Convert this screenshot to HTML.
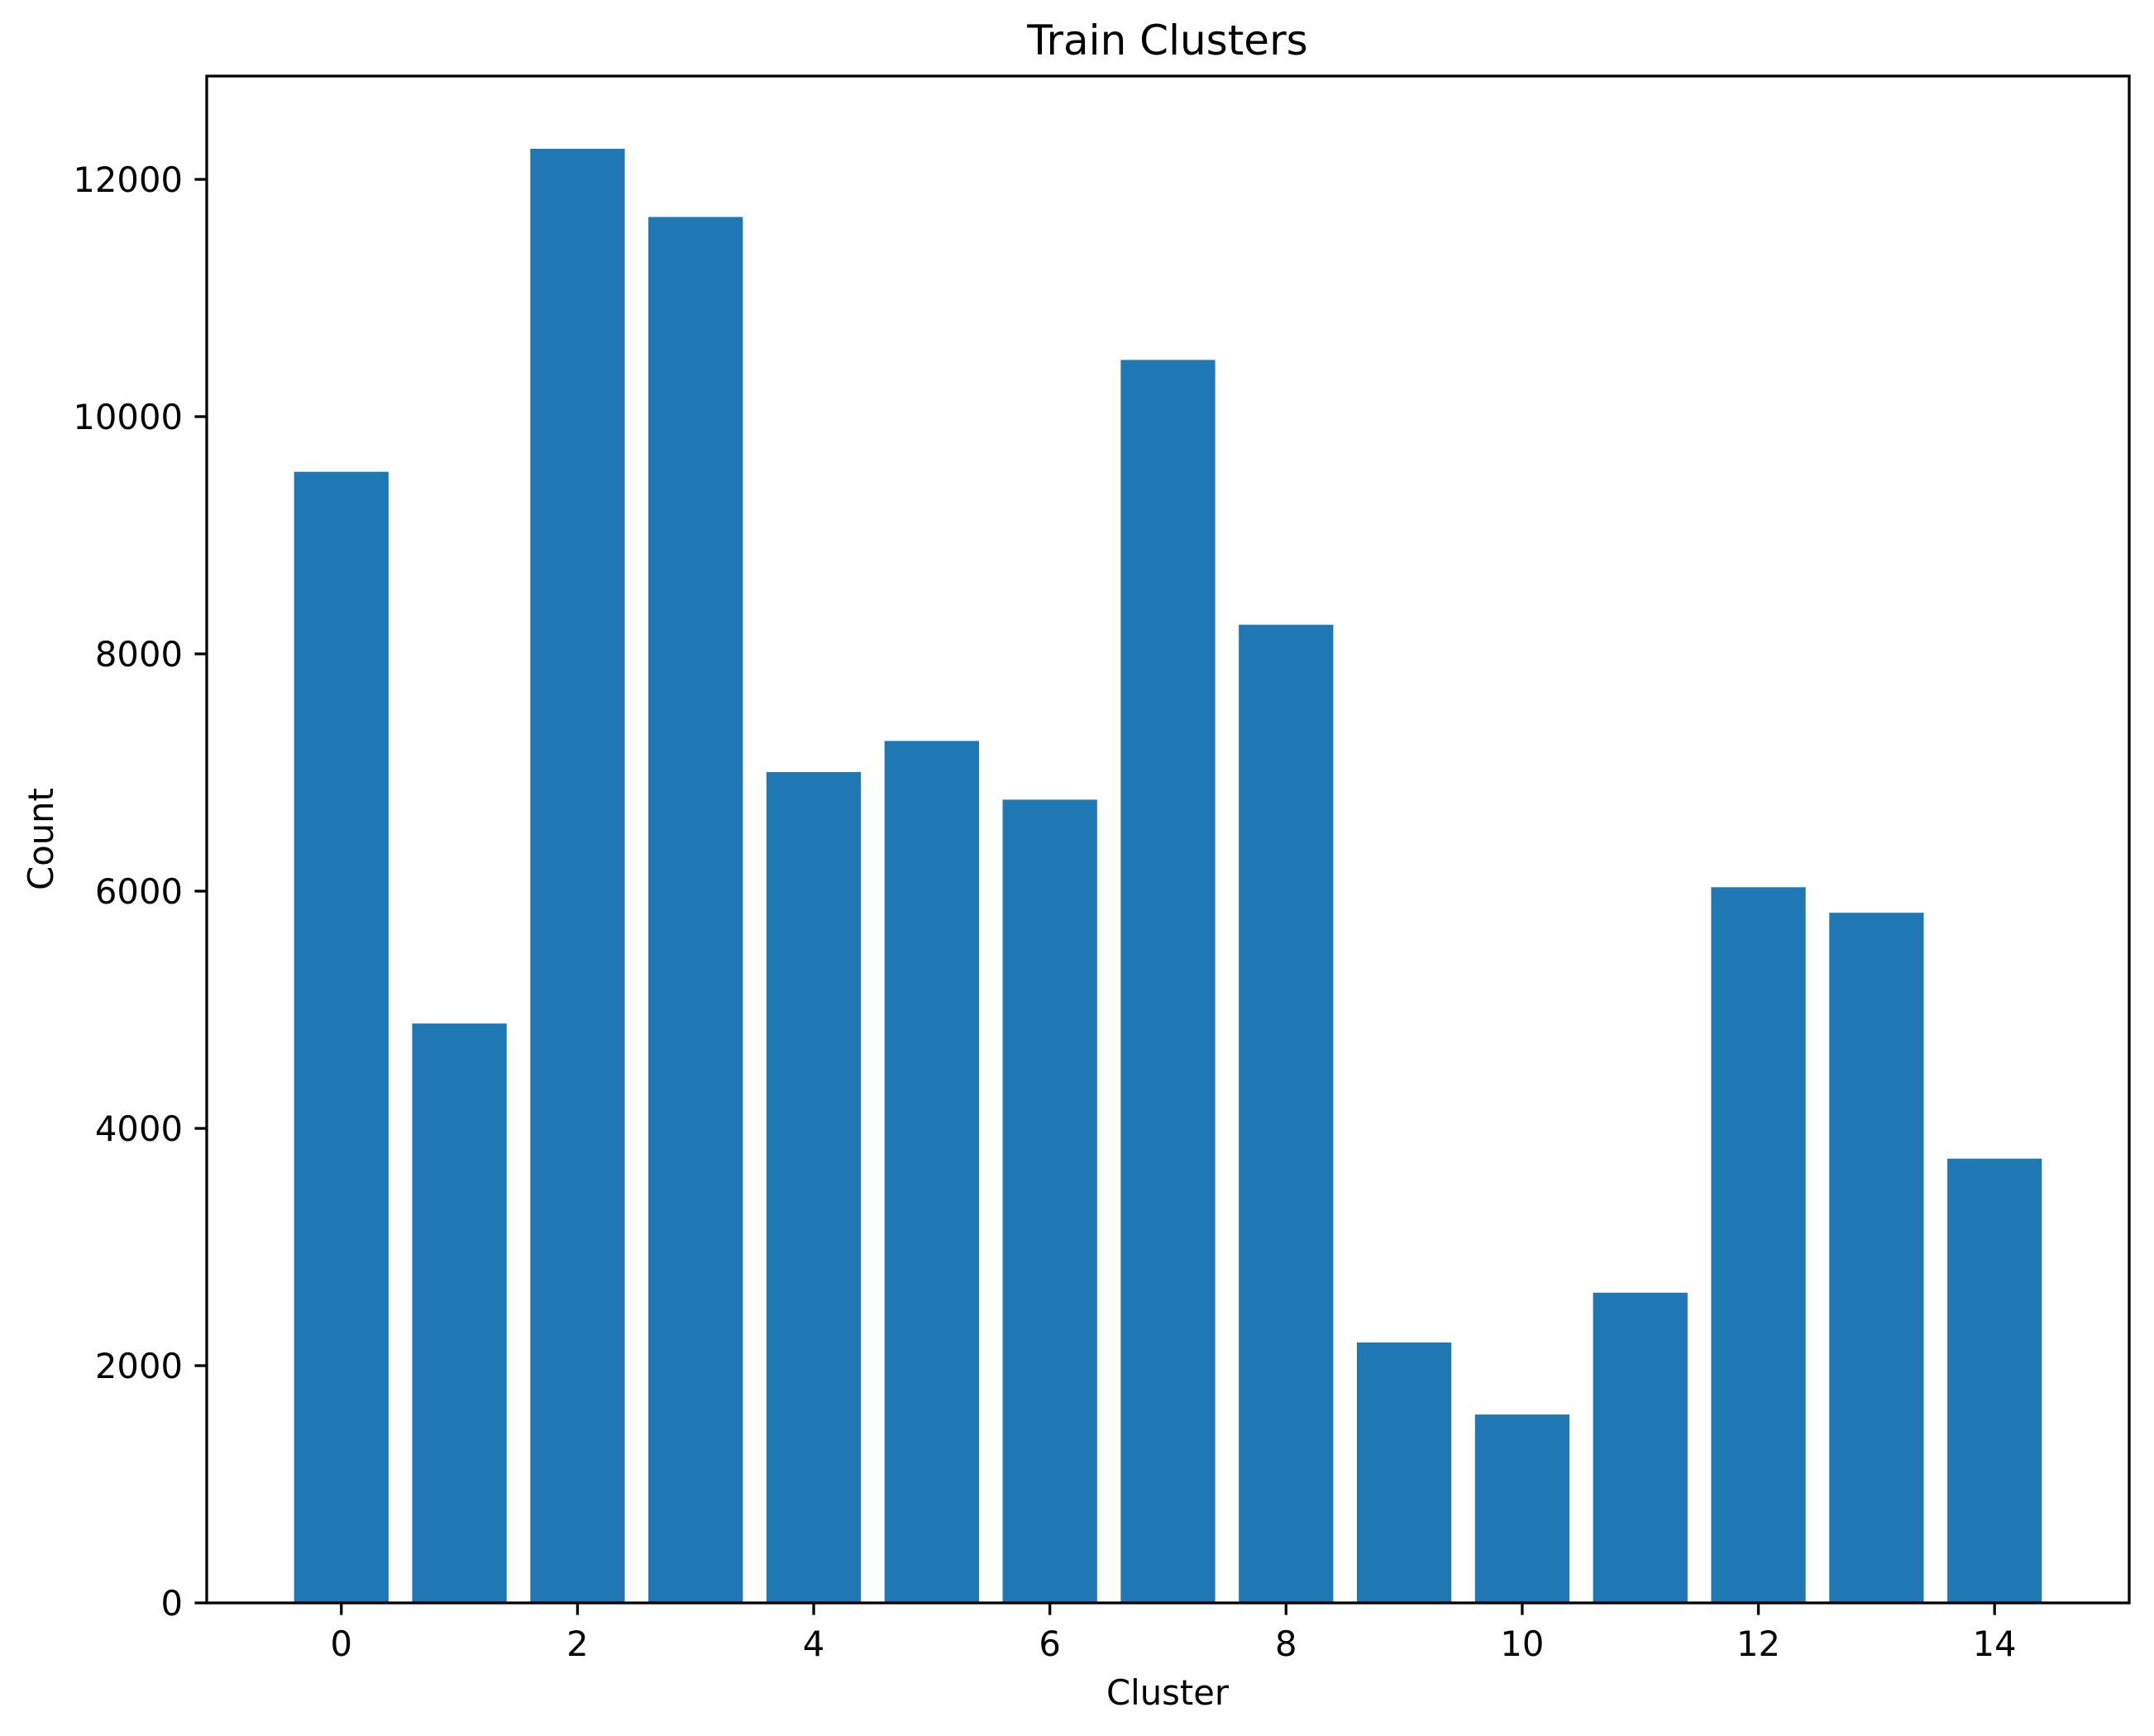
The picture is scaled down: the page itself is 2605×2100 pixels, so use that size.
<!DOCTYPE html>
<html><head><meta charset="utf-8"><style>
html,body{margin:0;padding:0;background:#fff;}
svg{display:block;font-family:"DejaVu Sans","Liberation Sans",sans-serif;}
</style></head><body>
<svg id="chart" width="2605" height="2100" viewBox="0 0 2605 2100" xmlns="http://www.w3.org/2000/svg">
<rect width="2605" height="2100" fill="#fff"/>
<g id="bars"></g>
<g id="axes"></g>
<text x="1412" y="66" font-size="50" text-anchor="middle">Train Clusters</text>
<text x="1412" y="2062" font-size="41.7" text-anchor="middle">Cluster</text>
<text transform="translate(64,1015) rotate(-90)" font-size="41.7" text-anchor="middle">Count</text>
</svg>
<script>
const categories = [0,1,2,3,4,5,6,7,8,9,10,11,12,13,14];
const counts = [9535,4884,12258,11683,7004,7266,6771,10478,8246,2195,1588,2615,6033,5818,3745];
const xTicks = [0,2,4,6,8,10,12,14];
const yTicks = [0,2000,4000,6000,8000,10000,12000];

const L=250,R=2575,T=92,B=1939;
const xMin=-1.14,xMax=15.14,yMin=0,yMax=12871;
const NS="http://www.w3.org/2000/svg";
function xs(v){return L+(v-xMin)/(xMax-xMin)*(R-L);}
function ys(v){return B-(v-yMin)/(yMax-yMin)*(B-T);}
function mk(tag,attrs,parent){const e=document.createElementNS(NS,tag);for(const k in attrs)e.setAttribute(k,attrs[k]);parent.appendChild(e);return e;}
const bars=document.getElementById('bars'), axes=document.getElementById('axes');
categories.forEach((c,i)=>{
  const x0=xs(c-0.4),x1=xs(c+0.4),y=ys(counts[i]);
  const r=mk('rect',{x:x0,y:y,width:x1-x0,height:B-y,fill:'#1f77b4'},bars);
  
  
});
const frame=mk('rect',{x:L,y:T,width:R-L,height:B-T,fill:'none',stroke:'#000','stroke-width':3.3},axes);


xTicks.forEach(t=>{
  const x=xs(t);
  const l=mk('line',{x1:x,x2:x,y1:B,y2:B+14.6,stroke:'#000','stroke-width':3.3},axes);
  
  
  const tx=mk('text',{x:x,y:2003,'font-size':41.7,'text-anchor':'middle'},axes);
  tx.textContent=t;
  
  
});
yTicks.forEach(t=>{
  const y=ys(t);
  const l=mk('line',{x1:L-14.6,x2:L,y1:y,y2:y,stroke:'#000','stroke-width':3.3},axes);
  
  
  const tx=mk('text',{x:221,y:y+15,'font-size':41.7,'text-anchor':'end'},axes);
  tx.textContent=t;
  
  
});
</script>
</body></html>
